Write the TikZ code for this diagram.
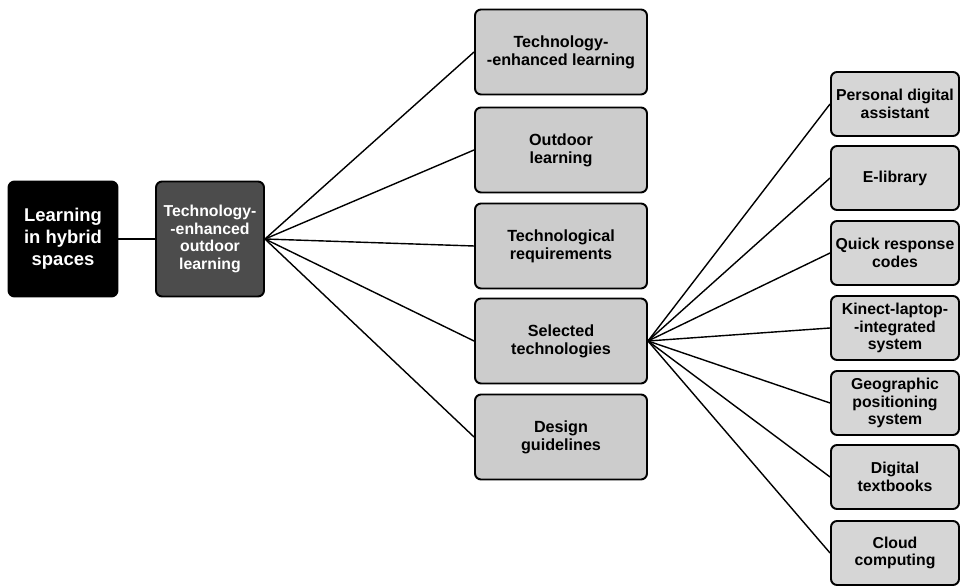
\documentclass[tikz,border=0pt]{standalone}
\usepackage{fontspec}
\setmainfont{Liberation Sans}
\usepackage{tikz}
\definecolor{midgray}{gray}{0.8}
\definecolor{lightgray}{gray}{0.84}
\definecolor{darkgray}{gray}{0.3}

\begin{document}
\begin{tikzpicture}[x=0.02cm, y=-0.02cm,
        box/.style = {draw, rounded corners=0.12cm, line width=1.1pt, align=center, inner sep=1pt, font=\bfseries},
        rootbox/.style = {box, fill=black, text=white, minimum width=2.18cm, minimum height=2.3cm, font=\bfseries\fontsize{10.5}{12.5}\selectfont},
        hubbox/.style = {box, fill=darkgray, text=white, minimum width=2.16cm, minimum height=2.3cm, font=\bfseries\fontsize{9}{10}\selectfont},
        topicbox/.style = {box, fill=midgray, minimum width=3.44cm, minimum height=1.7cm, font=\bfseries\fontsize{9.2}{10.4}\selectfont},
        techbox/.style = {box, fill=lightgray, minimum width=2.56cm, minimum height=1.28cm, font=\bfseries\fontsize{9}{10}\selectfont},
        link/.style = {line width=0.8pt}]
        \useasboundingbox (0,0) rectangle (961,587);

        \node[rootbox] (root) at (63,239) {Learning\\in hybrid\\spaces};
        \node[hubbox] (hub) at (210,239) {Technology-\\-enhanced\\outdoor\\learning};

        \node[topicbox] (t1) at (561,52) {Technology-\\-enhanced learning};
        \node[topicbox] (t2) at (561,150) {Outdoor\\learning};
        \node[topicbox] (t3) at (561,246) {Technological\\requirements};
        \node[topicbox] (t4) at (561,341) {Selected\\technologies};
        \node[topicbox] (t5) at (561,437) {Design\\guidelines};

        \node[techbox] (s1) at (895,104) {Personal digital\\assistant};
        \node[techbox] (s2) at (895,178) {E-library};
        \node[techbox] (s3) at (895,253) {Quick response\\codes};
        \node[techbox] (s4) at (895,328) {Kinect-laptop-\\-integrated\\system};
        \node[techbox] (s5) at (895,403) {Geographic\\positioning\\system};
        \node[techbox] (s6) at (895,477) {Digital\\textbooks};
        \node[techbox] (s7) at (895,553) {Cloud\\computing};

        \draw[link] (root) -- (hub);
        \foreach \i in {1,...,5}
            \draw[link] (hub.east) -- (t\i.west);
        \foreach \i in {1,...,7}
            \draw[link] (t4.east) -- (s\i.west);
    \end{tikzpicture}
\end{document}
